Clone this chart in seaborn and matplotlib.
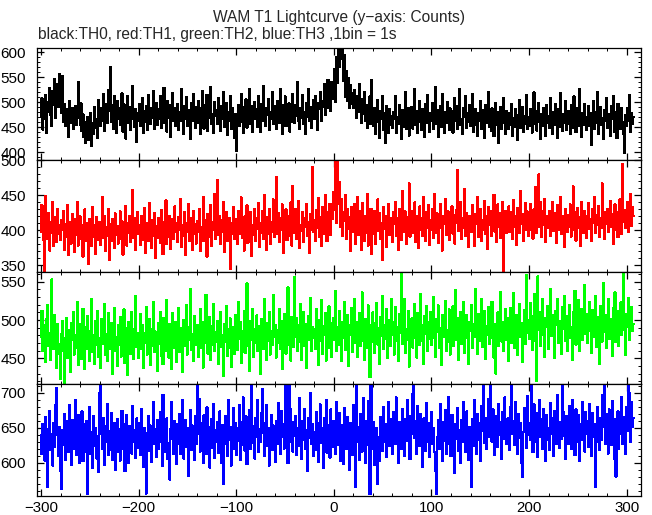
import numpy as np
import pandas as pd
import matplotlib
matplotlib.use("Agg")
import matplotlib.pyplot as plt
from matplotlib.ticker import MultipleLocator
import seaborn as sns

# ---------------- data (counts per 1 s bin, starting at t = -300 s) ----------------
th0_counts = [
    470, 508, 445, 492, 466, 515, 438, 500, 481, 528, 474, 452, 522, 495, 546, 468, 510, 537, 490, 556,
    512, 478, 552, 461, 497, 452, 486, 470, 431, 503, 476, 459, 488, 447, 470, 492, 455, 472, 540, 468,
    455, 498, 442, 476, 430, 461, 418, 452, 470, 425, 446, 479, 412, 458, 437, 490, 449, 466, 428, 505,
    471, 452, 488, 463, 517, 442, 478, 496, 458, 525, 483, 570, 461, 494, 447, 512, 476, 438, 503, 466,
    489, 455, 472, 518, 441, 496, 463, 427, 480, 512, 458, 491, 445, 474, 532, 467, 450, 486, 421, 478,
    463, 497, 452, 474, 508, 439, 482, 461, 493, 445, 514, 476, 457, 489, 468, 523, 447, 480, 499, 455,
    486, 466, 512, 448, 491, 473, 529, 458, 484, 441, 502, 469, 495, 430, 477, 518, 463, 488, 452, 474,
    497, 445, 481, 462, 526, 471, 437, 493, 466, 510, 452, 485, 474, 427, 499, 463, 517, 480, 448, 491,
    459, 502, 470, 436, 488, 523, 465, 447, 494, 478, 515, 442, 483, 468, 531, 457, 476, 439, 501, 472,
    485, 456, 509, 470, 443, 492, 467, 520, 451, 477, 498, 434, 481, 463, 513, 447, 489, 472, 428, 476,
    402, 468, 495, 452, 484, 517, 461, 438, 490, 472, 506, 449, 481, 464, 527, 456, 493, 441, 475, 500,
    466, 487, 451, 512, 478, 440, 496, 462, 533, 470, 453, 488, 475, 507, 444, 481, 466, 521, 457, 492,
    471, 446, 503, 483, 459, 526, 468, 437, 494, 475, 512, 452, 486, 469, 498, 441, 480, 461, 517, 474,
    458, 495, 472, 541, 463, 447, 488, 469, 514, 456, 480, 436, 499, 471, 527, 462, 490, 448, 483, 505,
    467, 512, 479, 445, 498, 486, 520, 462, 503, 491, 536, 474, 509, 488, 545, 497, 528, 482, 541, 506,
    523, 566, 501, 590, 538, 642, 571, 660, 586, 628, 542, 594, 510, 563, 503, 548, 489, 534, 497, 518,
    488, 525, 503, 469, 512, 481, 536, 494, 458, 507, 476, 521, 463, 495, 448, 483, 470, 512, 456, 545,
    473, 452, 489, 437, 476, 505, 461, 428, 483, 467, 512, 445, 478, 419, 492, 463, 438, 486, 455, 472,
    449, 481, 467, 512, 438, 470, 456, 495, 463, 427, 484, 451, 472, 520, 446, 466, 489, 433, 475, 458,
    491, 447, 470, 526, 455, 482, 439, 468, 503, 461, 445, 487, 472, 430, 496, 458, 514, 465, 441, 479,
    462, 498, 447, 475, 531, 456, 484, 431, 469, 493, 450, 517, 466, 438, 481, 459, 500, 472, 444, 488,
    457, 482, 439, 470, 508, 463, 492, 446, 476, 527, 454, 467, 436, 489, 470, 512, 448, 479, 461, 495,
    452, 473, 516, 440, 468, 487, 455, 433, 479, 462, 503, 447, 485, 468, 429, 494, 458, 476, 521, 450,
    470, 443, 488, 461, 432, 476, 499, 455, 481, 418, 466, 490, 447, 472, 509, 458, 437, 483, 465, 446,
    478, 455, 496, 432, 469, 451, 487, 463, 424, 475, 504, 448, 466, 491, 441, 473, 457, 515, 446, 470,
    452, 486, 467, 439, 474, 520, 456, 482, 443, 468, 498, 461, 427, 476, 452, 489, 466, 433, 495, 459,
    473, 448, 509, 462, 437, 480, 455, 496, 470, 429, 486, 451, 518, 464, 442, 477, 459, 503, 445, 468,
    482, 457, 436, 494, 468, 449, 512, 471, 440, 463, 488, 452, 526, 466, 431, 479, 455, 497, 461, 444,
    470, 493, 452, 478, 415, 466, 502, 447, 481, 459, 521, 436, 473, 490, 454, 468, 427, 485, 462, 509,
    449, 476, 458, 433, 492, 467, 512, 441, 480, 463, 428, 497, 455, 471, 446, 488, 460, 436, 398, 474,
    452, 489, 463, 515, 441, 478, 456, 470,
]

th1_counts = [
    398, 436, 410, 385, 342, 449, 402, 388, 425, 371, 412, 396, 440, 378, 405, 419, 383, 431, 394, 407,
    386, 415, 401, 428, 372, 409, 390, 436, 364, 412, 398, 381, 423, 405, 369, 416, 393, 441, 378, 404,
    420, 388, 407, 362, 399, 430, 384, 411, 395, 352, 416, 402, 377, 433, 391, 408, 366, 419, 397, 386,
    412, 379, 401, 448, 389, 420, 370, 404, 392, 430, 357, 409, 385, 416, 398, 375, 424, 393, 406, 381,
    400, 427, 388, 413, 365, 402, 391, 435, 378, 410, 396, 420, 383, 405, 458, 389, 418, 372, 399, 426,
    394, 408, 379, 421, 386, 402, 432, 368, 411, 397, 384, 439, 401, 375, 414, 392, 425, 360, 406, 389,
    417, 398, 382, 429, 404, 366, 412, 395, 443, 380, 408, 391, 421, 373, 402, 416, 387, 434, 398, 410,
    383, 419, 401, 445, 376, 408, 392, 426, 364, 411, 398, 437, 385, 403, 417, 372, 428, 395, 409, 381,
    413, 397, 431, 370, 405, 390, 448, 384, 415, 399, 362, 423, 408, 391, 436, 377, 412, 400, 452, 388,
    407, 472, 393, 421, 380, 414, 398, 440, 369, 409, 426, 385, 403, 418, 344, 411, 395, 433, 387, 416,
    402, 380, 428, 395, 413, 447, 389, 405, 371, 420, 398, 436, 382, 411, 401, 426, 363, 408, 393, 430,
    385, 417, 402, 439, 376, 410, 396, 428, 388, 451, 403, 372, 419, 394, 431, 381, 412, 398, 444, 390,
    409, 476, 395, 425, 383, 418, 401, 437, 367, 413, 398, 430, 386, 407, 421, 392, 440, 378, 464, 403,
    396, 431, 387, 415, 442, 374, 408, 399, 426, 383, 418, 405, 437, 392, 412, 368, 423, 401, 490, 397,
    414, 385, 429, 403, 446, 390, 419, 378, 433, 407, 395, 451, 412, 384, 426, 400, 438, 393, 421, 416,
    455, 429, 500, 411, 498, 437, 469, 405, 445, 392, 426, 414, 451, 388, 430, 402, 419, 371, 433, 410,
    398, 437, 381, 416, 447, 393, 428, 405, 372, 439, 410, 384, 421, 396, 452, 378, 415, 407, 431, 366,
    412, 395, 428, 380, 417, 444, 399, 425, 387, 411, 358, 433, 402, 420, 376, 408, 437, 393, 418, 401,
    383, 426, 409, 441, 392, 417, 372, 430, 404, 386, 456, 413, 398, 427, 380, 419, 403, 467, 391, 412,
    428, 396, 415, 440, 383, 421, 408, 375, 434, 401, 418, 392, 447, 410, 385, 426, 403, 436, 379, 414,
    400, 431, 389, 452, 411, 396, 424, 382, 416, 438, 403, 371, 420, 409, 445, 393, 413, 427, 386, 418,
    407, 434, 395, 422, 381, 411, 429, 486, 399, 415, 440, 387, 418, 403, 459, 392, 425, 410, 376, 421,
    412, 397, 436, 404, 378, 423, 409, 447, 391, 418, 430, 385, 414, 401, 442, 395, 420, 373, 433, 407,
    419, 392, 428, 410, 451, 398, 416, 383, 437, 405, 424, 389, 413, 441, 340, 402, 427, 396, 418, 434,
    398, 426, 411, 387, 443, 405, 420, 379, 432, 414, 396, 456, 409, 423, 385, 418, 439, 401, 427, 392,
    415, 438, 400, 421, 388, 430, 411, 462, 396, 417, 480, 405, 441, 390, 427, 408, 445, 383, 420, 412,
    403, 428, 392, 417, 440, 399, 424, 410, 382, 436, 415, 401, 448, 395, 421, 409, 376, 431, 414, 397,
    422, 405, 437, 391, 418, 463, 400, 426, 385, 413, 432, 404, 419, 378, 441, 410, 396, 428, 415, 389,
    420, 439, 402, 416, 384, 430, 411, 447, 396, 422, 408, 435, 391, 418, 403, 467, 412, 387, 426, 409,
    431, 398, 417, 442, 405, 423, 380, 414, 437, 401, 426, 390, 419, 444, 408, 395, 495, 412, 429, 403,
    417, 441, 398, 425, 452, 406, 433, 420,
]

th2_counts = [
    478, 512, 459, 493, 470, 445, 501, 520, 466, 483, 448, 553, 489, 462, 507, 474, 437, 495, 468, 456,
    423, 482, 499, 460, 418, 476, 503, 451, 487, 468, 432, 496, 474, 510, 455, 480, 463, 524, 441, 488,
    470, 495, 449, 515, 478, 436, 491, 462, 505, 473, 447, 486, 527, 458, 481, 443, 499, 467, 512, 452,
    476, 438, 501, 469, 488, 521, 455, 482, 447, 509, 474, 462, 496, 430, 485, 516, 459, 478, 440, 493,
    467, 504, 452, 486, 475, 514, 444, 490, 463, 428, 497, 480, 456, 510, 471, 449, 488, 531, 465, 483,
    450, 479, 508, 462, 494, 437, 483, 470, 517, 455, 476, 501, 441, 488, 466, 523, 458, 485, 472, 433,
    496, 469, 511, 453, 480, 442, 503, 475, 460, 526, 487, 451, 495, 470, 436, 509, 482, 464, 498, 445,
    477, 516, 458, 489, 471, 432, 500, 466, 484, 519, 455, 491, 474, 540, 461, 482, 446, 505, 479, 468,
    494, 452, 486, 515, 463, 477, 438, 498, 470, 533, 489, 456, 481, 504, 448, 492, 467, 521, 459, 484,
    472, 499, 443, 486, 510, 465, 480, 427, 495, 471, 518, 453, 488, 464, 502, 439, 478, 491, 456, 507,
    483, 461, 524, 475, 497, 444, 486, 469, 512, 457, 490, 548, 466, 481, 433, 499, 474, 515, 452, 488,
    470, 506, 459, 492, 477, 429, 501, 484, 462, 527, 489, 448, 496, 473, 511, 455, 485, 467, 533, 478,
    494, 451, 487, 470, 515, 462, 499, 436, 482, 508, 475, 456, 497, 543, 468, 490, 447, 504, 481, 465,
    556, 478, 502, 459, 493, 471, 521, 448, 486, 510, 466, 495, 437, 483, 505, 474, 529, 460, 491, 476,
    488, 462, 514, 479, 441, 500, 473, 526, 456, 492, 481, 509, 447, 485, 470, 518, 463, 496, 452, 487,
    503, 474, 538, 459, 491, 467, 512, 484, 446, 498, 476, 523, 461, 489, 507, 440, 494, 480, 516, 458,
    485, 528, 470, 497, 452, 481, 509, 466, 492, 536, 473, 448, 501, 487, 463, 519, 478, 425, 494, 471,
    510, 483, 457, 496, 522, 468, 489, 443, 504, 479, 531, 462, 493, 475, 514, 451, 486, 500, 466, 527,
    480, 498, 455, 517, 473, 491, 446, 508, 483, 562, 469, 495, 527, 457, 488, 474, 512, 439, 496, 481,
    502, 464, 490, 521, 477, 451, 509, 486, 467, 534, 493, 472, 443, 505, 482, 518, 459, 497, 475, 511,
    468, 493, 530, 476, 452, 501, 485, 519, 463, 489, 441, 507, 478, 496, 525, 460, 487, 472, 514, 455,
    499, 481, 518, 466, 492, 539, 474, 503, 448, 487, 511, 469, 496, 523, 457, 484, 506, 477, 442, 498,
    486, 520, 463, 495, 478, 541, 490, 456, 508, 473, 497, 528, 465, 485, 512, 449, 492, 480, 517, 469,
    501, 476, 524, 488, 451, 495, 430, 483, 510, 466, 493, 537, 472, 498, 459, 487, 515, 474, 502, 446,
    490, 516, 470, 499, 535, 463, 486, 507, 454, 492, 521, 478, 496, 445, 488, 513, 469, 559, 483, 500,
    475, 522, 489, 461, 505, 493, 534, 472, 420, 557, 487, 510, 466, 498, 528, 480, 452, 503, 491, 518,
    462, 495, 541, 479, 507, 486, 450, 512, 494, 527, 470, 499, 481, 456, 517, 489, 532, 473, 505, 460,
    497, 520, 476, 491, 448, 511, 485, 538, 468, 502, 493, 526, 459, 487, 515, 474, 496, 546, 482, 508,
    470, 499, 524, 486, 457, 513, 490, 478, 531, 465, 504, 488, 443, 518, 496, 472, 549, 485, 507, 463,
    492, 528, 475, 501, 484, 453, 516, 497, 536, 471, 489, 512, 466, 498, 523, 480, 505, 560, 487, 454,
    508, 491, 529, 474, 500, 517, 486, 495,
]

th3_counts = [
    640, 612, 655, 628, 603, 665, 648, 565, 632, 674, 618, 641, 596, 657, 622, 683, 706, 639, 609, 651,
    588, 563, 646, 625, 670, 604, 638, 659, 615, 682, 633, 597, 661, 644, 620, 690, 611, 636, 668, 599,
    647, 626, 673, 602, 655, 631, 616, 660, 555, 634, 679, 612, 643, 592, 667, 624, 650, 606, 638, 587,
    699, 712, 641, 620, 664, 597, 652, 629, 684, 611, 645, 618, 671, 604, 637, 657, 590, 633, 662, 616,
    648, 603, 631, 674, 619, 655, 588, 642, 668, 625, 600, 652, 637, 613, 681, 629, 646, 607, 663, 621,
    639, 657, 611, 676, 632, 594, 649, 623, 556, 642, 667, 617, 653, 601, 635, 686, 626, 648, 608, 661,
    619, 644, 672, 630, 595, 697, 652, 615, 639, 663, 605, 628, 576, 648, 687, 634, 612, 659, 640, 598,
    655, 627, 670, 613, 644, 689, 606, 636, 661, 622, 650, 581, 642, 675, 618, 653, 631, 604, 666, 626,
    712, 641, 691, 616, 657, 633, 599, 668, 645, 612, 679, 628, 651, 593, 638, 662, 621, 684, 607, 646,
    630, 658, 614, 673, 636, 600, 654, 570, 626, 667, 643, 609, 689, 632, 651, 596, 641, 678, 620, 656,
    611, 649, 631, 682, 604, 658, 625, 693, 640, 617, 666, 598, 647, 633, 675, 619, 712, 652, 628, 606,
    664, 637, 690, 615, 648, 629, 671, 705, 643, 610, 657, 682, 624, 650, 596, 639, 668, 618, 653, 634,
    601, 660, 627, 685, 645, 612, 674, 636, 655, 620, 710, 641, 663, 599, 712, 630, 676, 649, 616, 658,
    638, 667, 611, 650, 624, 692, 642, 605, 659, 632, 677, 619, 646, 588, 663, 635, 699, 626, 655, 609,
    644, 618, 672, 637, 601, 657, 683, 628, 649, 592, 664, 631, 690, 614, 653, 639, 607, 676, 645, 622,
    660, 633, 612, 687, 649, 625, 671, 603, 654, 640, 598, 678, 636, 619, 665, 644, 590, 657, 627, 611,
    682, 645, 565, 712, 629, 651, 604, 670, 637, 616, 692, 641, 599, 660, 625, 688, 646, 555, 712, 633,
    620, 658, 597, 612, 650, 570, 636, 603, 665, 642, 617, 679, 630, 655, 608, 644, 687, 624, 662, 639,
    613, 672, 648, 627, 693, 640, 600, 658, 633, 619, 676, 645, 609, 662, 631, 690, 652, 623, 605, 667,
    641, 698, 712, 635, 659, 612, 681, 647, 624, 670, 638, 594, 663, 650, 617, 685, 629, 656, 608, 643,
    672, 626, 649, 615, 588, 555, 637, 661, 619, 684, 645, 602, 658, 631, 675, 612, 648, 694, 627, 653,
    609, 668, 640, 622, 585, 655, 634, 678, 617, 646, 600, 661, 629, 687, 643, 615, 673, 636, 604, 651,
    638, 565, 662, 624, 689, 647, 613, 670, 633, 657, 602, 681, 645, 712, 628, 664, 619, 652, 691, 637,
    712, 655, 630, 676, 643, 611, 667, 648, 622, 684, 639, 658, 605, 672, 634, 693, 651, 627, 663, 645,
    618, 680, 712, 641, 659, 625, 686, 647, 612, 670, 635, 656, 600, 580, 644, 678, 661, 621, 695, 639,
    657, 632, 712, 664, 615, 683, 646, 629, 671, 608, 652, 690, 636, 662, 620, 677, 644, 603, 668, 633,
    649, 618, 685, 641, 663, 610, 674, 656, 627, 696, 643, 621, 658, 634, 712, 672, 638, 605, 667, 646,
    626, 681, 653, 619, 690, 637, 661, 611, 676, 645, 629, 668, 602, 655, 633, 687, 648, 616, 672, 641,
    659, 622, 684, 647, 610, 671, 636, 655, 565, 629, 680, 643, 618, 664, 632, 697, 651, 712, 627, 669,
    640, 613, 676, 654, 625, 688, 647, 606, 662, 580, 635, 673, 619, 658, 641, 694, 627, 665, 650, 612,
    679, 645, 712, 700, 630, 686, 651, 664,
]

t_start = -300          # first bin time (s), 1 bin = 1 s
series_names = ["TH0", "TH1", "TH2", "TH3"]
series_colors = ["#000000", "#ff0000", "#00ff00", "#0000ff"]
y_limits = [(384.7, 609.3), (340.4, 501.0), (416.5, 563.0), (552.4, 712.4)]
x_limits = (-304.1, 314.6)
title_text = "WAM T1 Lightcurve (y\u2212axis: Counts)"
subtitle_text = "black:TH0, red:TH1, green:TH2, blue:TH3 ,1bin = 1s"

# ---------------- plotting ----------------
sns.set_style("ticks")
plt.rcParams["font.family"] = ["Liberation Sans", "DejaVu Sans"]
plt.rcParams["path.simplify"] = False

W, H = 652, 515
fig = plt.figure(figsize=(W / 100, H / 100), dpi=100)

left_px, right_px = 37, 641
top_px, bottom_px = 47.7, 496.0
panel_h = (bottom_px - top_px) / 4

all_counts = [th0_counts, th1_counts, th2_counts, th3_counts]
axes = []
for i, (name, counts, color, ylim) in enumerate(zip(series_names, all_counts, series_colors, y_limits)):
    ptop = top_px + i * panel_h
    ax = fig.add_axes([left_px / W, 1 - (ptop + panel_h) / H,
                       (right_px - left_px) / W, panel_h / H])
    df = pd.DataFrame({"time": t_start + np.arange(len(counts)), "counts": counts})
    sns.lineplot(data=df, x="time", y="counts", ax=ax, color=color,
                 estimator=None, sort=False, drawstyle="steps-mid",
                 linewidth=0.8, antialiased=False)
    ax.set_xlim(*x_limits)
    ax.set_ylim(*ylim)
    ax.set_xlabel("")
    ax.set_ylabel("")
    ax.xaxis.set_major_locator(MultipleLocator(100))
    ax.xaxis.set_minor_locator(MultipleLocator(20))
    ax.yaxis.set_major_locator(MultipleLocator(50))
    ax.yaxis.set_minor_locator(MultipleLocator(10))
    ax.tick_params(which="both", direction="in", top=True, right=True,
                   bottom=True, left=True, colors="black")
    ax.tick_params(which="major", length=4.7, width=0.9)
    ax.tick_params(which="minor", length=2.5, width=0.7)
    ax.tick_params(axis="y", which="major", pad=8, labelsize=11)
    ax.tick_params(axis="x", which="major", pad=3.5, labelsize=10.8)
    for sp in ax.spines.values():
        sp.set_linewidth(0.9)
        sp.set_color("black")
        sp.set_visible(True)
    if i < 3:
        ax.tick_params(axis="x", labelbottom=False)
    ax.set_facecolor("white")
    axes.append(ax)

fig.text(339 / W, 1 - 21.7 / H, title_text, ha="center", va="baseline", fontsize=11.2)
fig.text(37.7 / W, 1 - 39.3 / H, subtitle_text, ha="left", va="baseline", fontsize=11.2)

fig.savefig("out.png", dpi=100, facecolor="white")
